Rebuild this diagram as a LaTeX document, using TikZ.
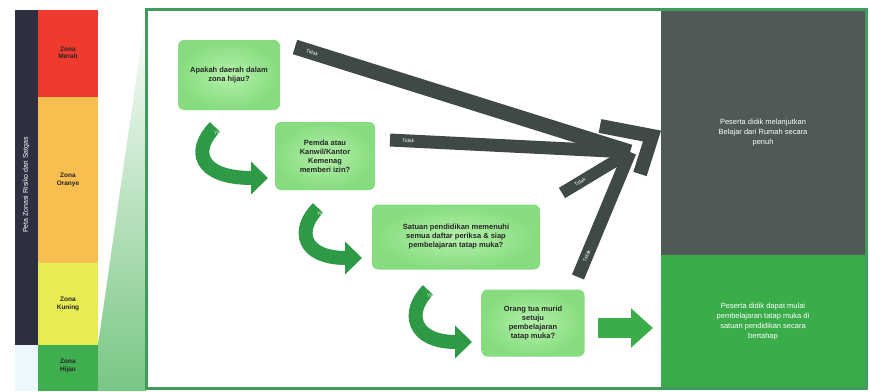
\documentclass[tikz,border=0pt]{standalone}
\usepackage{fontspec}
\setmainfont{Liberation Sans}
\usetikzlibrary{arrows.meta}
\definecolor{zoneRed}{HTML}{EE3B2E}
\definecolor{zoneOrange}{HTML}{F8BE50}
\definecolor{zoneYellow}{HTML}{E6EC52}
\definecolor{zoneGreen}{HTML}{3FAE4F}
\definecolor{legendDark}{HTML}{2E3042}
\definecolor{frameGreen}{HTML}{419B5E}
\definecolor{panelDark}{HTML}{4F5955}
\definecolor{panelGreen}{HTML}{3BAC4A}
\definecolor{barDark}{HTML}{3F4A47}
\definecolor{qGreen}{HTML}{86DC7E}
\definecolor{qLight}{HTML}{B4F0AA}
\definecolor{yaGreen}{HTML}{2E9A46}
\begin{document}
\begin{tikzpicture}[x=1pt,y=-1pt,
    zonetxt/.style={font=\fontsize{6.5}{7.5}\selectfont\bfseries, align=center, text=black!85},
    qbox/.style={shade, inner color=qLight, outer color=qGreen, rounded corners=6pt,
      align=center, font=\fontsize{7.5}{9}\selectfont\bfseries, text=black!85, inner sep=2pt},
    panel/.style={minimum width=205pt, align=center, text=white,
      font=\fontsize{7.5}{10}\selectfont},
    tidakbar/.style={draw=barDark, line cap=butt},
    tidaktxt/.style={font=\fontsize{5}{5}\selectfont, text=white!85, sloped, anchor=west, inner sep=1pt},
    yaarrow/.style={draw=yaGreen, line width=14pt, -{Triangle[length=17pt,width=32pt]}},
    yatxt/.style={font=\fontsize{5}{5}\selectfont, text=white}]
  \useasboundingbox (0,0) rectangle (870,391);
  % Legend of the zones
  \fill[legendDark] (15,10) rectangle (38,345);
  \fill[cyan!8] (15,345) rectangle (38,391);
  \fill[zoneRed] (38,10) rectangle (98,97);
  \fill[zoneOrange] (38,97) rectangle (98,263);
  \fill[zoneYellow] (38,263) rectangle (98,345);
  \fill[zoneGreen] (38,345) rectangle (98,391);
  \node[rotate=90, font=\fontsize{7}{7}\selectfont, text=white!80] (legend) at (26,185) {Peta Zonasi Risiko dari Satgas};
  \node[zonetxt] (merah) at (68,53) {Zona\\Merah};
  \node[zonetxt] (oranye) at (68,180) {Zona\\Oranye};
  \node[zonetxt] (kuning) at (68,304) {Zona\\Kuning};
  \node[zonetxt] (hijau) at (68,366) {Zona\\Hijau};
  % Wedge from green zone
  \shade[top color=white, bottom color=zoneGreen!70] (98,345) -- (146,10) -- (146,391) -- (98,391) -- cycle;
  % Main frame
  \fill[white] (146,9) rectangle (660,388);
  \node[panel, fill=panelDark, minimum height=245pt] (bdr) at (763,132.5)
    {Peserta didik melanjutkan\\Belajar dari Rumah secara\\penuh};
  \node[panel, fill=panelGreen, minimum height=133pt] (ptm) at (763,321.5)
    {Peserta didik dapat mulai\\pembelajaran tatap muka di\\satuan pendidikan secara\\bertahap};
  \draw[frameGreen, line width=3pt] (146,9) rectangle (866,388);
  % Questions
  \node[qbox, minimum width=102pt, minimum height=70pt] (q1) at (229,75) {Apakah daerah dalam\\zona hijau?};
  \node[qbox, minimum width=100pt, minimum height=68pt] (q2) at (325,156) {Pemda atau\\Kanwil/Kantor\\Kemenag\\memberi izin?};
  \node[qbox, minimum width=168pt, minimum height=65pt] (q3) at (456,237) {Satuan pendidikan memenuhi\\semua daftar periksa \& siap\\pembelajaran tatap muka?};
  \node[qbox, minimum width=103pt, minimum height=67pt] (q4) at (533,323) {Orang tua murid\\setuju\\pembelajaran\\tatap muka?};
  % Tidak bars towards the hub
  \coordinate (hub) at (630,152);
  \coordinate (t1) at (295,47);
  \coordinate (t2) at (390,140);
  \coordinate (t3) at (562,193);
  \coordinate (t4) at (578,277);
  \draw[tidakbar, line width=15pt] (t1) -- (hub) node[tidaktxt, pos=0.01] {Tidak};
  \draw[tidakbar, line width=13pt] (t2) -- (hub) node[tidaktxt, pos=0.02] {Tidak};
  \draw[tidakbar, line width=12pt] (t3) -- (hub) node[tidaktxt, pos=0.1] {Tidak};
  \draw[tidakbar, line width=13pt] (t4) -- (hub) node[tidaktxt, pos=0.07] {Tidak};
  \draw[tidakbar, line width=14pt, line join=miter] (600,126) -- (652,136) -- (640,174);
  % Ya arrows
  \coordinate (ya1) at (215,127);
  \coordinate (ya2) at (318,208);
  \coordinate (ya3) at (428,290);
  \draw[yaarrow] (ya1) .. controls (192,150) and (198,178) .. (268,178);
  \draw[yaarrow] (ya2) .. controls (296,230) and (302,258) .. (362,258);
  \draw[yaarrow] (ya3) .. controls (406,312) and (412,342) .. (472,342);
  \foreach \c in {ya1,ya2,ya3} { \node[yatxt] at ([xshift=2pt,yshift=-6pt]\c) {Ya}; }
  % Ya towards the classroom
  \coordinate (go) at (598,328);
  \draw[draw=panelGreen, line width=20pt, -{Triangle[length=22pt,width=38pt]}] (go) -- (653,328);
\end{tikzpicture}
\end{document}
